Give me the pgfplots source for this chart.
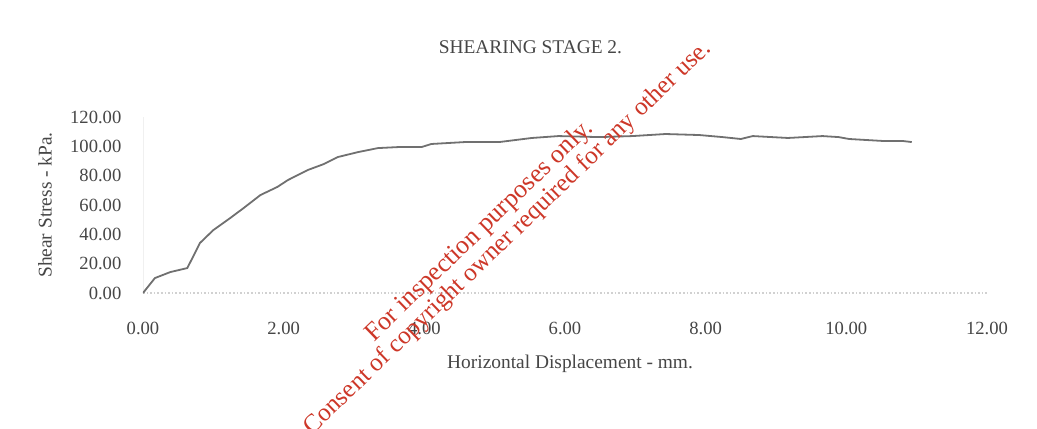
\documentclass[border=0pt]{standalone}
\usepackage{fontspec}
\setmainfont{Liberation Serif}
\usepackage{pgfplots}
\pgfplotsset{compat=1.18}
\definecolor{curve}{RGB}{112,112,112}
\definecolor{txt}{RGB}{70,70,70}
\definecolor{wmred}{RGB}{205,55,40}
\begin{document}
\begin{tikzpicture}
\path[use as bounding box] (-71.5pt,-67.5pt) rectangle (447pt,146.5pt);
\begin{axis}[
    scale only axis,
    width=422pt, height=88pt,
    xmin=0, xmax=12, ymin=0, ymax=120,
    xtick={0,2,...,12},
    ytick={0,20,...,120},
    axis x line*=bottom,
    axis y line*=left,
    x axis line style={black!18, densely dotted, line width=0.8pt, -},
    y axis line style={black!6, -},
    major tick length=0pt,
    tick label style={text=txt, font=\fontsize{9.3}{11}\selectfont},
    /pgf/number format/.cd, fixed, fixed zerofill, precision=2, assume math mode=true,
    /pgfplots/.cd,
    yticklabel style={anchor=east, xshift=-7.3pt},
    xticklabel style={anchor=north, yshift=-11pt},
    every axis title shift=0pt,
    title={SHEARING STAGE 2.},
    title style={at={(axis description cs:0.459,1.398)}, anchor=center,
        text=txt, font=\fontsize{9.7}{11.6}\selectfont},
    xlabel={Horizontal Displacement - mm.},
    xlabel style={at={(axis description cs:0.506,-0.40)}, anchor=center, yshift=0pt,
        text=txt, font=\fontsize{9.7}{11.6}\selectfont},
    ylabel={Shear Stress - kPa.},
    ylabel style={at={(axis description cs:-0.116,0.5)}, anchor=center,
        text=txt, font=\fontsize{9.7}{11.6}\selectfont},
]
\addplot[curve, line width=0.9pt, mark=none] coordinates {
    (0.00,0.0) (0.17,10.2) (0.39,14.3) (0.63,17.0) (0.81,34.1)
    (1.00,42.9) (1.24,51.1) (1.43,57.9) (1.67,66.8) (1.91,72.3)
    (2.06,77.0) (2.34,83.8) (2.57,87.9) (2.77,92.7) (3.06,96.1)
    (3.34,98.8) (3.63,99.5) (3.96,99.5) (4.10,101.6) (4.57,102.9)
    (5.06,102.9) (5.53,105.7) (5.91,107.0) (6.49,106.3) (6.96,107.0)
    (7.43,108.4) (7.91,107.7) (8.24,106.3) (8.50,105.0) (8.67,107.0)
    (9.17,105.7) (9.66,107.0) (9.89,106.3) (10.04,105.0) (10.54,103.6)
    (10.81,103.6) (10.93,102.9)
};
\end{axis}
% watermark
\node[rotate=44, anchor=base west, text=wmred, font=\fontsize{13}{15}\selectfont]
    at (113pt,-27pt) {For inspection purposes only.};
\node[rotate=44, anchor=base east, text=wmred, font=\fontsize{12.6}{15}\selectfont]
    at (287pt,124pt) {Consent of copyright owner required for any other use.};
\end{tikzpicture}
\end{document}
